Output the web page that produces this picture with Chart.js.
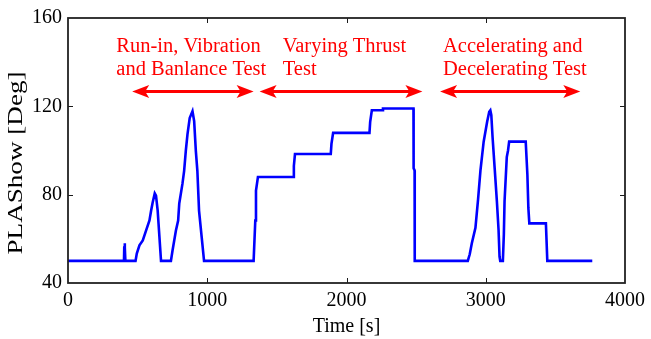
<!DOCTYPE html>
<html>
<head>
<meta charset="utf-8">
<script src="https://cdn.jsdelivr.net/npm/chart.js@4/dist/chart.umd.min.js"></script>
<style>
  html, body { margin: 0; padding: 0; background: #ffffff; }
  #wrap { width: 651px; height: 339px; }
</style>
</head>
<body>
<div id="wrap"><canvas id="c" width="651" height="339"></canvas></div>
<script>
// PLA command recorded during the engine test sequence
const timeSec = [
  0, 402, 404, 407, 409, 412, 485, 494, 513, 537, 561, 585, 597, 608, 623, 632, 644, 668,
  739, 751, 775, 791, 799, 822, 834, 846, 858, 874, 894, 906, 918, 929, 941, 960, 977,
  1333, 1345, 1350, 1364, 1618, 1622, 1630, 1887, 1892, 1904, 2165, 2170, 2182, 2255, 2262,
  2481, 2482, 2489, 2490, 2871, 2885, 2900, 2926, 2945, 2962, 2985, 3010, 3025, 3033, 3040,
  3049, 3064, 3080, 3092, 3099, 3104, 3123, 3130, 3135, 3151, 3160, 3168, 3287, 3299, 3306,
  3313, 3432, 3442, 3765
];
const plaDeg = [
  50, 50, 56, 58, 56, 50, 50, 53.3, 57.1, 59.3, 63.8, 68.3, 72.8, 76.5, 80.6, 79.6, 72.8, 50,
  50, 54.8, 63.8, 68.3, 76, 85, 90.8, 99.8, 107.3, 114.7, 117.8, 113.3, 99.8, 90.8, 72.8, 60.8, 50,
  50, 68.3, 81.8, 88, 88, 93, 98.4, 98.4, 103, 108, 108, 113, 118.2, 118.2, 119,
  119, 92, 91, 50, 50, 53, 58, 65, 78, 91, 104, 113, 117.5, 118.2, 116,
  106, 92, 77, 64, 52, 50, 50, 62, 77, 97, 100, 104, 104, 89, 74,
  67, 67, 50, 50
];
const xTickValues = [0, 1000, 2000, 3000, 4000];
const yTickValues = [40, 80, 120, 160];

// Test phases: caption lines and time span (s)
const phaseCaptions = [
  ['Run-in, Vibration', 'and Banlance Test'],
  ['Varying Thrust', 'Test'],
  ['Accelerating and', 'Decelerating Test']
];
const phaseStart = [461, 1376, 2672];
const phaseEnd = [1333, 2545, 3679];

// Placement of the phase captions and arrows, in axis units
const captionAnchor = { x: [347, 1542, 2693], y: 144.8 };
const arrowLevel = 126.7;

const points = timeSec.map((t, i) => ({ x: t, y: plaDeg[i] }));
const SERIF = '"Liberation Serif", "Times New Roman", serif';

function drawArrowHead(ctx, tipX, y, dir) {
  const L = 17, W = 6.5, N = 4;
  ctx.beginPath();
  ctx.moveTo(tipX, y);
  ctx.lineTo(tipX - dir * L, y - W);
  ctx.lineTo(tipX - dir * (L - N), y);
  ctx.lineTo(tipX - dir * L, y + W);
  ctx.closePath();
  ctx.fill();
}

const phasePlugin = {
  id: 'phases',
  afterDatasetsDraw(chart) {
    const { ctx, scales: { x, y } } = chart;
    ctx.save();
    ctx.fillStyle = '#ff0000';
    ctx.strokeStyle = '#ff0000';
    ctx.font = '20.5px ' + SERIF;
    ctx.textAlign = 'left';
    ctx.textBaseline = 'alphabetic';
    const baseY = y.getPixelForValue(captionAnchor.y);
    phaseCaptions.forEach((lines, i) => {
      const lx = x.getPixelForValue(captionAnchor.x[i]);
      lines.forEach((txt, k) => ctx.fillText(txt, lx, baseY + k * 23.5));
    });
    const ay = y.getPixelForValue(arrowLevel);
    ctx.lineWidth = 3;
    phaseStart.forEach((s, i) => {
      const x0 = x.getPixelForValue(s);
      const x1 = x.getPixelForValue(phaseEnd[i]);
      ctx.beginPath();
      ctx.moveTo(x0 + 12, ay);
      ctx.lineTo(x1 - 12, ay);
      ctx.stroke();
      drawArrowHead(ctx, x0, ay, -1);
      drawArrowHead(ctx, x1, ay, 1);
    });
    ctx.restore();
  }
};

const framePlugin = {
  id: 'frame',
  afterDraw(chart) {
    const { ctx, chartArea: a, scales: { x, y } } = chart;
    ctx.save();
    ctx.strokeStyle = '#1a1a1a';
    ctx.lineWidth = 1;
    const tl = 5;
    ctx.beginPath();
    xTickValues.slice(1, -1).forEach(v => {
      const px = Math.round(x.getPixelForValue(v)) + 0.5;
      ctx.moveTo(px, a.bottom); ctx.lineTo(px, a.bottom - tl);
      ctx.moveTo(px, a.top); ctx.lineTo(px, a.top + tl);
    });
    yTickValues.slice(1, -1).forEach(v => {
      const py = Math.round(y.getPixelForValue(v)) + 0.5;
      ctx.moveTo(a.left, py); ctx.lineTo(a.left + tl, py);
      ctx.moveTo(a.right, py); ctx.lineTo(a.right - tl, py);
    });
    ctx.stroke();
    ctx.lineWidth = 1.8;
    ctx.strokeStyle = '#222222';
    ctx.strokeRect(a.left, a.top, a.right - a.left, a.bottom - a.top);

    // vertical axis title
    ctx.fillStyle = '#000000';
    ctx.font = '20px ' + SERIF;
    ctx.textAlign = 'center';
    ctx.textBaseline = 'alphabetic';
    const label = 'PLAShow [Deg]';
    const stretch = 183 / ctx.measureText(label).width;
    ctx.translate(21.5, 163);
    ctx.rotate(-Math.PI / 2);
    ctx.scale(stretch, 1);
    ctx.fillText(label, 0, 0);
    ctx.restore();
  }
};

new Chart(document.getElementById('c'), {
  type: 'line',
  data: {
    datasets: [{
      data: points,
      borderColor: '#0000ff',
      borderWidth: 2.6,
      pointRadius: 0,
      tension: 0,
      fill: false
    }]
  },
  options: {
    responsive: false,
    animation: false,
    events: [],
    layout: { padding: { top: 16, right: 22, left: 0, bottom: 0 } },
    plugins: { legend: { display: false }, tooltip: { enabled: false } },
    scales: {
      x: {
        type: 'linear',
        min: 0, max: 4000,
        afterBuildTicks(scale) { scale.ticks = xTickValues.map(v => ({ value: v })); },
        ticks: {
          color: '#000000', font: { family: SERIF, size: 20 }, padding: 6, maxRotation: 0,
          callback: v => String(v)
        },
        grid: { display: false, drawTicks: false },
        border: { display: false },
        title: {
          display: true, text: 'Time [s]', color: '#000000',
          font: { family: SERIF, size: 20 }, padding: { top: 0, bottom: 0.5 }
        },
        afterFit(scale) { scale.height = 56; }
      },
      y: {
        type: 'linear',
        min: 40, max: 160,
        afterBuildTicks(scale) { scale.ticks = yTickValues.map(v => ({ value: v })); },
        ticks: {
          color: '#000000', font: { family: SERIF, size: 20 }, padding: 6,
          callback: v => String(v)
        },
        grid: { display: false, drawTicks: false },
        border: { display: false },
        afterFit(scale) { scale.width = 68; }
      }
    }
  },
  plugins: [phasePlugin, framePlugin]
});
</script>
</body>
</html>
